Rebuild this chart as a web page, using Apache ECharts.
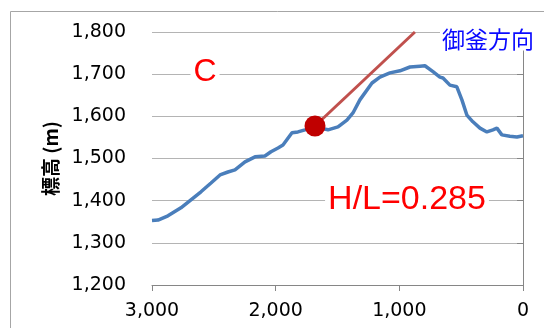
<!DOCTYPE html>
<html>
<head>
<meta charset="utf-8">
<script src="https://cdn.jsdelivr.net/npm/echarts@6/dist/echarts.min.js"></script>
<style>
  html, body { margin: 0; padding: 0; background: #fff; }
  #chart { width: 544px; height: 328px; }
</style>
</head>
<body>
<div id="chart"></div>
<script>
// 距離 (m) と 標高 (m)
const distance = [3000, 2951, 2871, 2766, 2685, 2604, 2523, 2450, 2386, 2329, 2248, 2167, 2087, 2038, 1981, 1941, 1868, 1820, 1763, 1720, 1682, 1640, 1577, 1496, 1424, 1375, 1319, 1221, 1157, 1076, 995, 914, 833, 793, 728, 672, 647, 591, 535, 494, 454, 405, 348, 292, 243, 211, 171, 106, 49, 0]
const elevation = [1353, 1354, 1364, 1383, 1402, 1421, 1442, 1461, 1468, 1473, 1492, 1504, 1506, 1516, 1525, 1532, 1561, 1563, 1568, 1572, 1576, 1572, 1568, 1575, 1591, 1608, 1639, 1679, 1693, 1703, 1708, 1717, 1719, 1720, 1706, 1693, 1691, 1674, 1670, 1639, 1603, 1587, 1572, 1563, 1568, 1572, 1556, 1553, 1551, 1554]

// H/L 線と地点 C
const hlX = [1682, 874]
const hlY = [1577, 1800]
const pointC = [1682, 1577]

const fmt = v => v.toLocaleString('en-US')

const chart = echarts.init(document.getElementById('chart'))
chart.setOption({
  animation: false,
  grid: { left: 152, right: 21, top: 32, bottom: 43 },
  xAxis: {
    type: 'value',
    inverse: true,
    min: 0,
    max: 3000,
    interval: 1000,
    axisLine: { show: true, lineStyle: { color: '#868686', width: 1 } },
    axisTick: { show: true, length: 6, lineStyle: { color: '#868686' } },
    splitLine: { show: false },
    axisLabel: { formatter: fmt, color: '#000', fontSize: 19, fontFamily: 'DejaVu Sans', margin: 17 },
  },
  yAxis: {
    type: 'value',
    min: 1200,
    max: 1800,
    interval: 100,
    name: '標高 (m)',
    nameLocation: 'middle',
    nameRotate: 90,
    nameGap: 92,
    nameTextStyle: { color: '#000', fontSize: 19, fontWeight: 'bold', fontFamily: 'Noto Sans CJK JP' },
    axisLine: { show: true, lineStyle: { color: '#868686', width: 1 } },
    axisTick: { show: true, length: 6, lineStyle: { color: '#868686' } },
    splitLine: { show: true, lineStyle: { color: '#b4b4b4', width: 1 } },
    axisLabel: { formatter: fmt, color: '#000', fontSize: 19, fontFamily: 'DejaVu Sans', margin: 26 },
  },
  graphic: [
    {
      type: 'rect',
      shape: { x: 10.5, y: 11.5, width: 700, height: 500 },
      style: { fill: 'none', stroke: '#a6a6a6', lineWidth: 1 },
      z: -1,
    },
    {
      type: 'text',
      x: 205,
      y: 72,
      z: 100,
      style: { text: 'C', fill: '#ff0000', font: '32px "Liberation Sans"', align: 'center', verticalAlign: 'middle', backgroundColor: '#fff', padding: [0, 3] },
    },
    {
      type: 'text',
      x: 407,
      y: 200,
      z: 100,
      style: { text: 'H/L=0.285', fill: '#ff0000', font: '34px "Liberation Sans"', align: 'center', verticalAlign: 'middle', backgroundColor: '#fff', padding: [0, 3] },
    },
    {
      type: 'text',
      x: 488,
      y: 39,
      z: 100,
      style: { text: '御釜方向', fill: '#0a0aff', font: '23px "Noto Sans CJK JP"', align: 'center', verticalAlign: 'middle', backgroundColor: '#fff', padding: [0, 2] },
    },
  ],
  series: [
    {
      type: 'line',
      data: distance.map((d, i) => [d, elevation[i]]),
      symbol: 'none',
      lineStyle: { color: '#4a7ebb', width: 3.5 },
      z: 3,
    },
    {
      type: 'line',
      data: hlX.map((d, i) => [d, hlY[i]]),
      symbol: 'none',
      lineStyle: { color: '#c0504d', width: 3 },
      z: 4,
    },
    {
      type: 'scatter',
      data: [pointC],
      symbolSize: 21,
      itemStyle: { color: '#c00000', opacity: 1 },
      z: 5,
    },
  ],
})
</script>
</body>
</html>
